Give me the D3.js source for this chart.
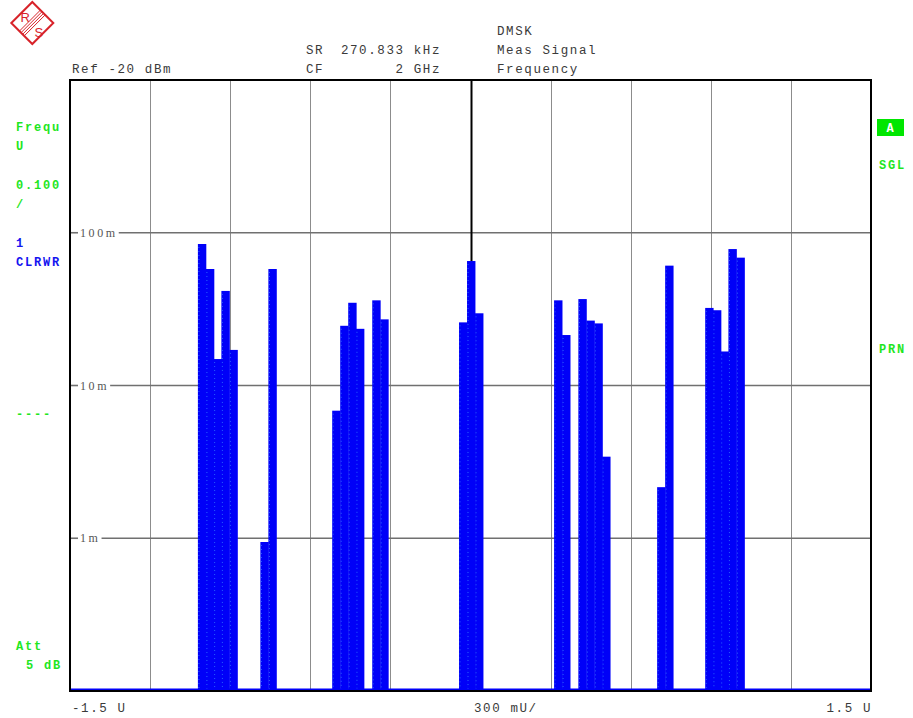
<!DOCTYPE html>
<html lang="en">
  <head>
    <meta charset="UTF-8" />
    <title>DMSK Meas Signal Frequency</title>
    <script src="https://d3js.org/d3.v7.min.js"></script>
    <style>
      body {
        margin: 0;
        background: #fff;
      }
      svg {
        display: block;
      }
      .hdr text {
        font-family: "Courier New", "Liberation Mono", monospace;
        font-size: 12.5px;
        letter-spacing: 1.6px;
        fill: #3a3a3a;
      }
      .side text {
        font-family: "Courier New", "Liberation Mono", monospace;
        font-size: 12px;
        font-weight: bold;
        letter-spacing: 1.8px;
      }
      .ylab {
        font-family: "Liberation Serif", "DejaVu Serif", serif;
        font-size: 12px;
        letter-spacing: 2.6px;
        fill: #555;
      }
    </style>
  </head>
  <body>
    <svg width="913" height="718"></svg>

    <script>
      // bin centres (U) and measured level of each bar
      const binCenters = [
        -1.006, -0.976, -0.947, -0.918, -0.888, -0.772, -0.742,
        -0.503, -0.473, -0.443, -0.414, -0.353, -0.323,
        -0.028, 0.002, 0.032,
        0.328, 0.358, 0.419, 0.449, 0.479, 0.508, 0.714, 0.744,
        0.894, 0.923, 0.952, 0.981, 1.011,
      ];
      const binValues = [
        0.0844, 0.0579, 0.0149, 0.0416, 0.0171, 0.000945, 0.0579,
        0.00684, 0.0246, 0.0348, 0.0235, 0.0361, 0.0271,
        0.0259, 0.0653, 0.0297,
        0.0361, 0.0214, 0.0368, 0.0266, 0.0255, 0.00342, 0.00216, 0.0609,
        0.0322, 0.0311, 0.0167, 0.0782, 0.0687,
      ];
      const binWidth = 0.03;

      const xGrid = [-1.2, -0.9, -0.6, -0.3, 0, 0.3, 0.6, 0.9, 1.2];
      const yGrid = [1e-1, 1e-2, 1e-3];
      const yGridLabels = ["100m", "10m", "1m"];
      const markerPos = 0;

      const svg = d3.select("svg");
      const pLeft = 70,
        pRight = 871,
        pTop = 80,
        pBottom = 691;

      const x = d3.scaleLinear().domain([-1.5, 1.5]).range([pLeft, pRight]);
      const y = d3.scaleLog().domain([1e-4, 1]).range([pBottom, pTop]);

      svg.append("rect").attr("width", 913).attr("height", 718).attr("fill", "#fff");

      // R&S logo
      const red = "#d8232a";
      const logo = svg.append("g").attr("transform", "translate(32.3,23)");
      logo
        .append("polygon")
        .attr("points", "0,-21 21,0 0,21 -21,0")
        .attr("fill", "none")
        .attr("stroke", red)
        .attr("stroke-width", 2);
      [-2.4, -0.8, 0.8, 2.4].forEach((o) => {
        logo
          .append("line")
          .attr("x1", 10.5 + o)
          .attr("y1", -10.5 + o)
          .attr("x2", -10.5 + o)
          .attr("y2", 10.5 + o)
          .attr("stroke", red)
          .attr("stroke-width", 1);
      });
      [["R", -7, -6], ["S", 6.5, 9]].forEach(([t, tx, ty]) => {
        logo
          .append("text")
          .attr("x", tx)
          .attr("y", ty)
          .attr("text-anchor", "middle")
          .attr("dominant-baseline", "central")
          .attr("font-family", "Liberation Sans, sans-serif")
          .attr("font-size", 13)
          .attr("fill", red)
          .text(t);
      });

      // header texts
      const hdr = svg.append("g").attr("class", "hdr");
      hdr.append("text").attr("x", 72).attr("y", 72.5).text("Ref -20 dBm");
      hdr.append("text").attr("x", 306).attr("y", 53.5).text("SR");
      hdr.append("text").attr("x", 441).attr("y", 53.5).attr("text-anchor", "end").text("270.833 kHz");
      hdr.append("text").attr("x", 306).attr("y", 72.5).text("CF");
      hdr.append("text").attr("x", 441).attr("y", 72.5).attr("text-anchor", "end").text("2 GHz");
      hdr.append("text").attr("x", 497).attr("y", 34.5).text("DMSK");
      hdr.append("text").attr("x", 497).attr("y", 53.5).text("Meas Signal");
      hdr.append("text").attr("x", 497).attr("y", 72.5).text("Frequency");
      hdr.append("text").attr("x", 72).attr("y", 712).text("-1.5 U");
      hdr.append("text").attr("x", 474).attr("y", 712).text("300 mU/");
      hdr.append("text").attr("x", 872).attr("y", 712).attr("text-anchor", "end").text("1.5 U");

      // side annotations
      const green = "#1ee61e",
        blue = "#1414f0";
      const side = svg.append("g").attr("class", "side");
      [
        ["Frequ", 16, 131, green],
        ["U", 16, 150, green],
        ["0.100", 16, 189, green],
        ["/", 16, 208, green],
        ["1", 16, 247, blue],
        ["CLRWR", 16, 266, blue],
        ["----", 16, 418, green],
        ["Att", 16, 650, green],
        ["5 dB", 26, 669, green],
        ["SGL", 879, 169, green],
        ["PRN", 879, 353, green],
      ].forEach(([t, tx, ty, c]) => {
        side.append("text").attr("x", tx).attr("y", ty).attr("fill", c).text(t);
      });
      side.append("rect").attr("x", 877).attr("y", 119).attr("width", 27).attr("height", 17).attr("fill", "#00e600");
      side
        .append("text")
        .attr("x", 891)
        .attr("y", 132)
        .attr("text-anchor", "middle")
        .attr("fill", "#fff")
        .text("A");

      // grid
      const grid = svg.append("g");
      grid
        .selectAll("line.v")
        .data(xGrid)
        .enter()
        .append("line")
        .attr("class", "v")
        .attr("x1", (d) => Math.round(x(d)) + 0.5)
        .attr("x2", (d) => Math.round(x(d)) + 0.5)
        .attr("y1", pTop)
        .attr("y2", pBottom)
        .attr("stroke", "#8c8c8c")
        .attr("stroke-width", 1);

      yGrid.forEach((v, i) => {
        const yy = y(v);
        const lbl = grid
          .append("text")
          .attr("class", "ylab")
          .attr("x", 80)
          .attr("y", yy + 4)
          .text(yGridLabels[i]);
        const end = 80 + lbl.node().getComputedTextLength() + 1;
        grid
          .append("line")
          .attr("x1", pLeft)
          .attr("x2", 78)
          .attr("y1", yy)
          .attr("y2", yy)
          .attr("stroke", "#707070")
          .attr("stroke-width", 1.6);
        grid
          .append("line")
          .attr("x1", end)
          .attr("x2", pRight)
          .attr("y1", yy)
          .attr("y2", yy)
          .attr("stroke", "#707070")
          .attr("stroke-width", 1.6);
      });

      // bars
      const bars = svg.append("g");
      const binData = binCenters.map((c, i) => ({ c: c, v: binValues[i] }));
      bars
        .selectAll("rect")
        .data(binData)
        .enter()
        .append("rect")
        .attr("x", (d) => x(d.c - binWidth / 2))
        .attr("width", (d) => x(d.c + binWidth / 2) - x(d.c - binWidth / 2) + 0.4)
        .attr("y", (d) => y(d.v))
        .attr("height", (d) => y(1e-4) - y(d.v))
        .attr("fill", "#0000f8");

      // faint dotted texture inside bars
      bars
        .selectAll("line")
        .data(binData)
        .enter()
        .append("line")
        .attr("x1", (d) => x(d.c - binWidth / 2) + 1)
        .attr("x2", (d) => x(d.c - binWidth / 2) + 1)
        .attr("y1", (d) => y(d.v) + 3)
        .attr("y2", pBottom)
        .attr("stroke", "#3a8cff")
        .attr("stroke-width", 0.7)
        .attr("stroke-dasharray", "1,3");

      // floor trace
      svg
        .append("line")
        .attr("x1", pLeft)
        .attr("x2", pRight)
        .attr("y1", pBottom - 1.5)
        .attr("y2", pBottom - 1.5)
        .attr("stroke", "#0000f8")
        .attr("stroke-width", 2);

      // marker line down to the trace
      const mk = binData.find((d) => Math.abs(d.c - markerPos) < binWidth / 2);
      svg
        .append("line")
        .attr("x1", x(markerPos) + 1)
        .attr("x2", x(markerPos) + 1)
        .attr("y1", pTop)
        .attr("y2", y(mk.v))
        .attr("stroke", "#000")
        .attr("stroke-width", 2);

      // frame
      svg
        .append("rect")
        .attr("x", pLeft)
        .attr("y", pTop)
        .attr("width", pRight - pLeft)
        .attr("height", pBottom - pTop)
        .attr("fill", "none")
        .attr("stroke", "#000")
        .attr("stroke-width", 2);
    </script>
  </body>
</html>
